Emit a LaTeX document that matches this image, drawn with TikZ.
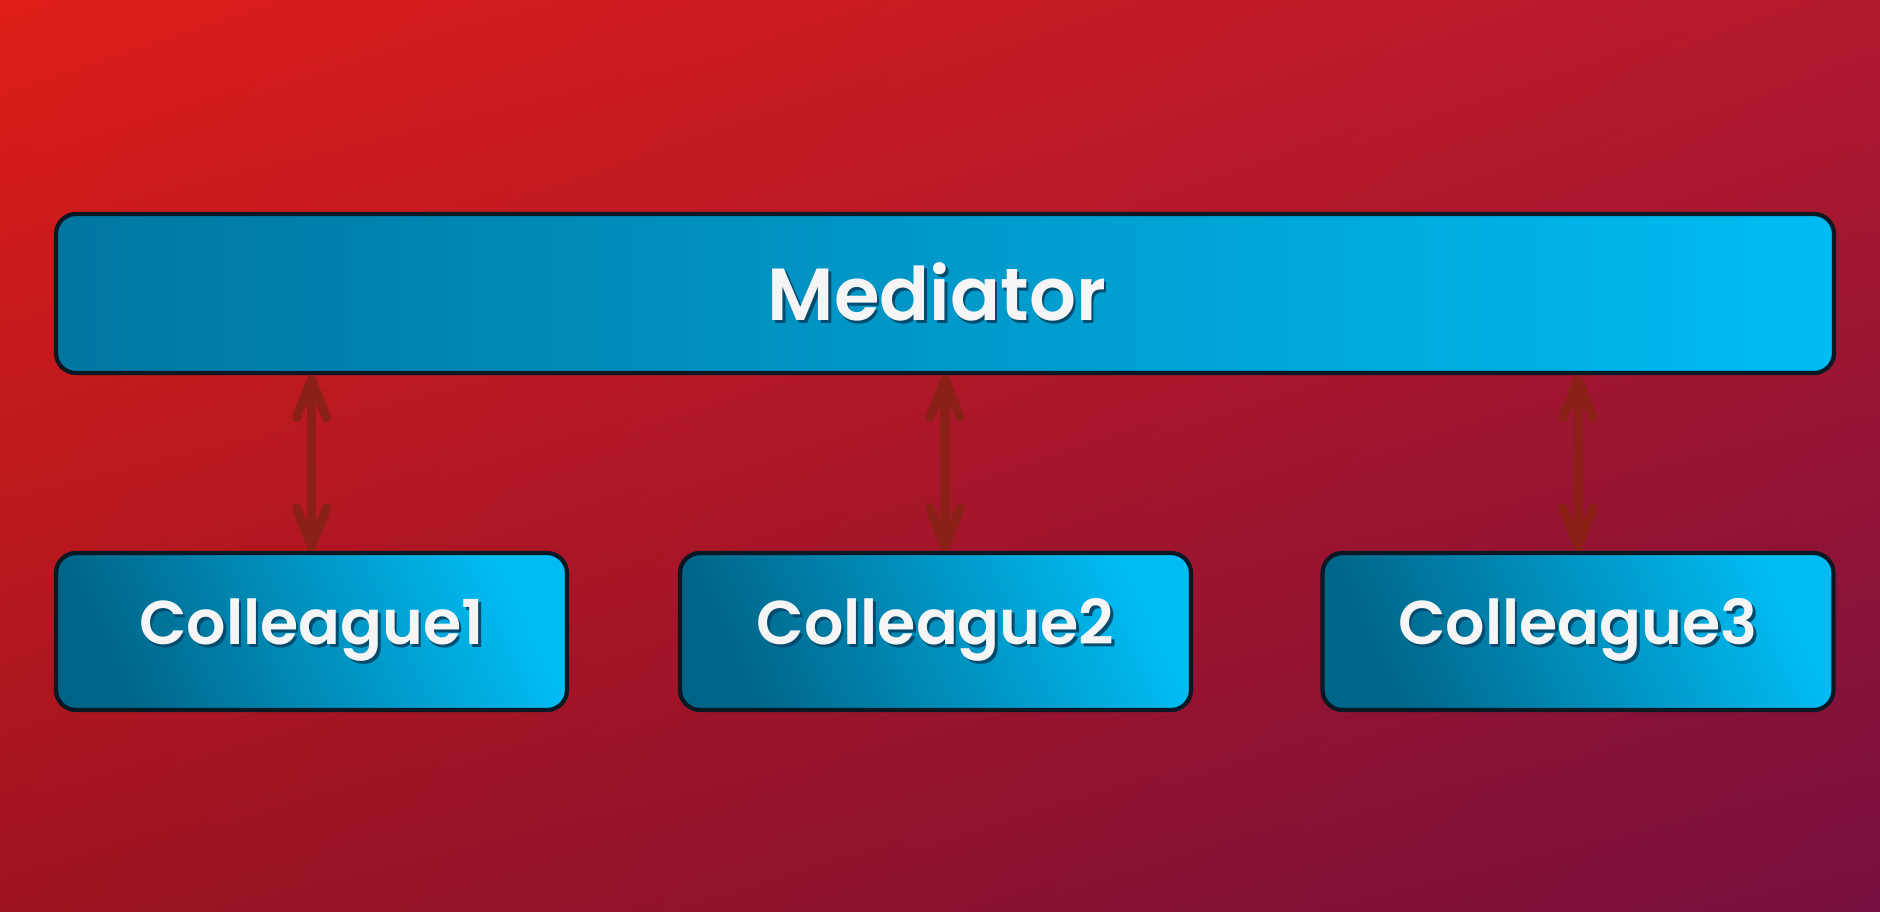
\documentclass[tikz,border=0pt]{standalone}
\usepackage{fontspec}
\setmainfont{Poppins}[BoldFont={Poppins SemiBold}]
\usetikzlibrary{arrows.meta,calc,shadings}
\definecolor{bgTL}{RGB}{222,30,25}
\definecolor{bgTR}{RGB}{178,25,45}
\definecolor{bgBL}{RGB}{158,20,32}
\definecolor{bgBR}{RGB}{118,15,62}
\definecolor{boxdark}{RGB}{0,118,160}
\definecolor{boxlight}{RGB}{0,188,243}
\definecolor{boxborder}{RGB}{10,24,36}
\definecolor{arrowcol}{RGB}{138,32,22}
\definecolor{txtshadow}{RGB}{0,75,110}
\newcommand{\shtext}[1]{\makebox[0pt][l]{\raisebox{-0.3mm}{\hspace{0.25mm}\textcolor{txtshadow}{#1}}}\textcolor{white!96!black}{#1}}
\begin{document}
\begin{tikzpicture}[x=0.1mm,y=-0.1mm,
  boxbase/.style={draw=boxborder, line width=1.2pt, rounded corners=2mm,
    inner sep=0pt},
  medbox/.style={boxbase, left color=boxdark, right color=boxlight,
    minimum width=177.8mm, minimum height=15.9mm, font=\bfseries\fontsize{21pt}{25pt}\selectfont},
  colbox/.style={boxbase, left color=boxdark!85!black, right color=boxlight, shading angle=115,
    minimum width=51.1mm, minimum height=15.7mm, font=\bfseries\fontsize{17.6pt}{21pt}\selectfont},
  biarrow/.style={draw=arrowcol, line width=2.6pt, line cap=round,
    {Straight Barb[length=3.8mm,width=3mm,round]}-{Straight Barb[length=3.8mm,width=3mm,round]}}
]
\shade[upper left=bgTL, upper right=bgTR, lower left=bgBL, lower right=bgBR] (0,0) rectangle (1880,911);
\useasboundingbox (0,0) rectangle (1880,911);
\node[medbox] (med) at (945,293.5) {\kern-1.6mm\raisebox{0.3mm}{\shtext{Mediator}}};
\node[colbox] (c1) at (311.5,631.5) {\shtext{Colleague1}};
\node[colbox] (c2) at (935.5,631.5) {\shtext{Colleague2}};
\node[colbox] (c3) at (1578,631.5) {\shtext{Colleague3}};
\draw[biarrow] (med.south -| c1.north) -- (c1.north);
\draw[biarrow] (med.south) -- (med.south |- c2.north);
\draw[biarrow] (med.south -| c3.north) -- (c3.north);
\end{tikzpicture}
\end{document}
